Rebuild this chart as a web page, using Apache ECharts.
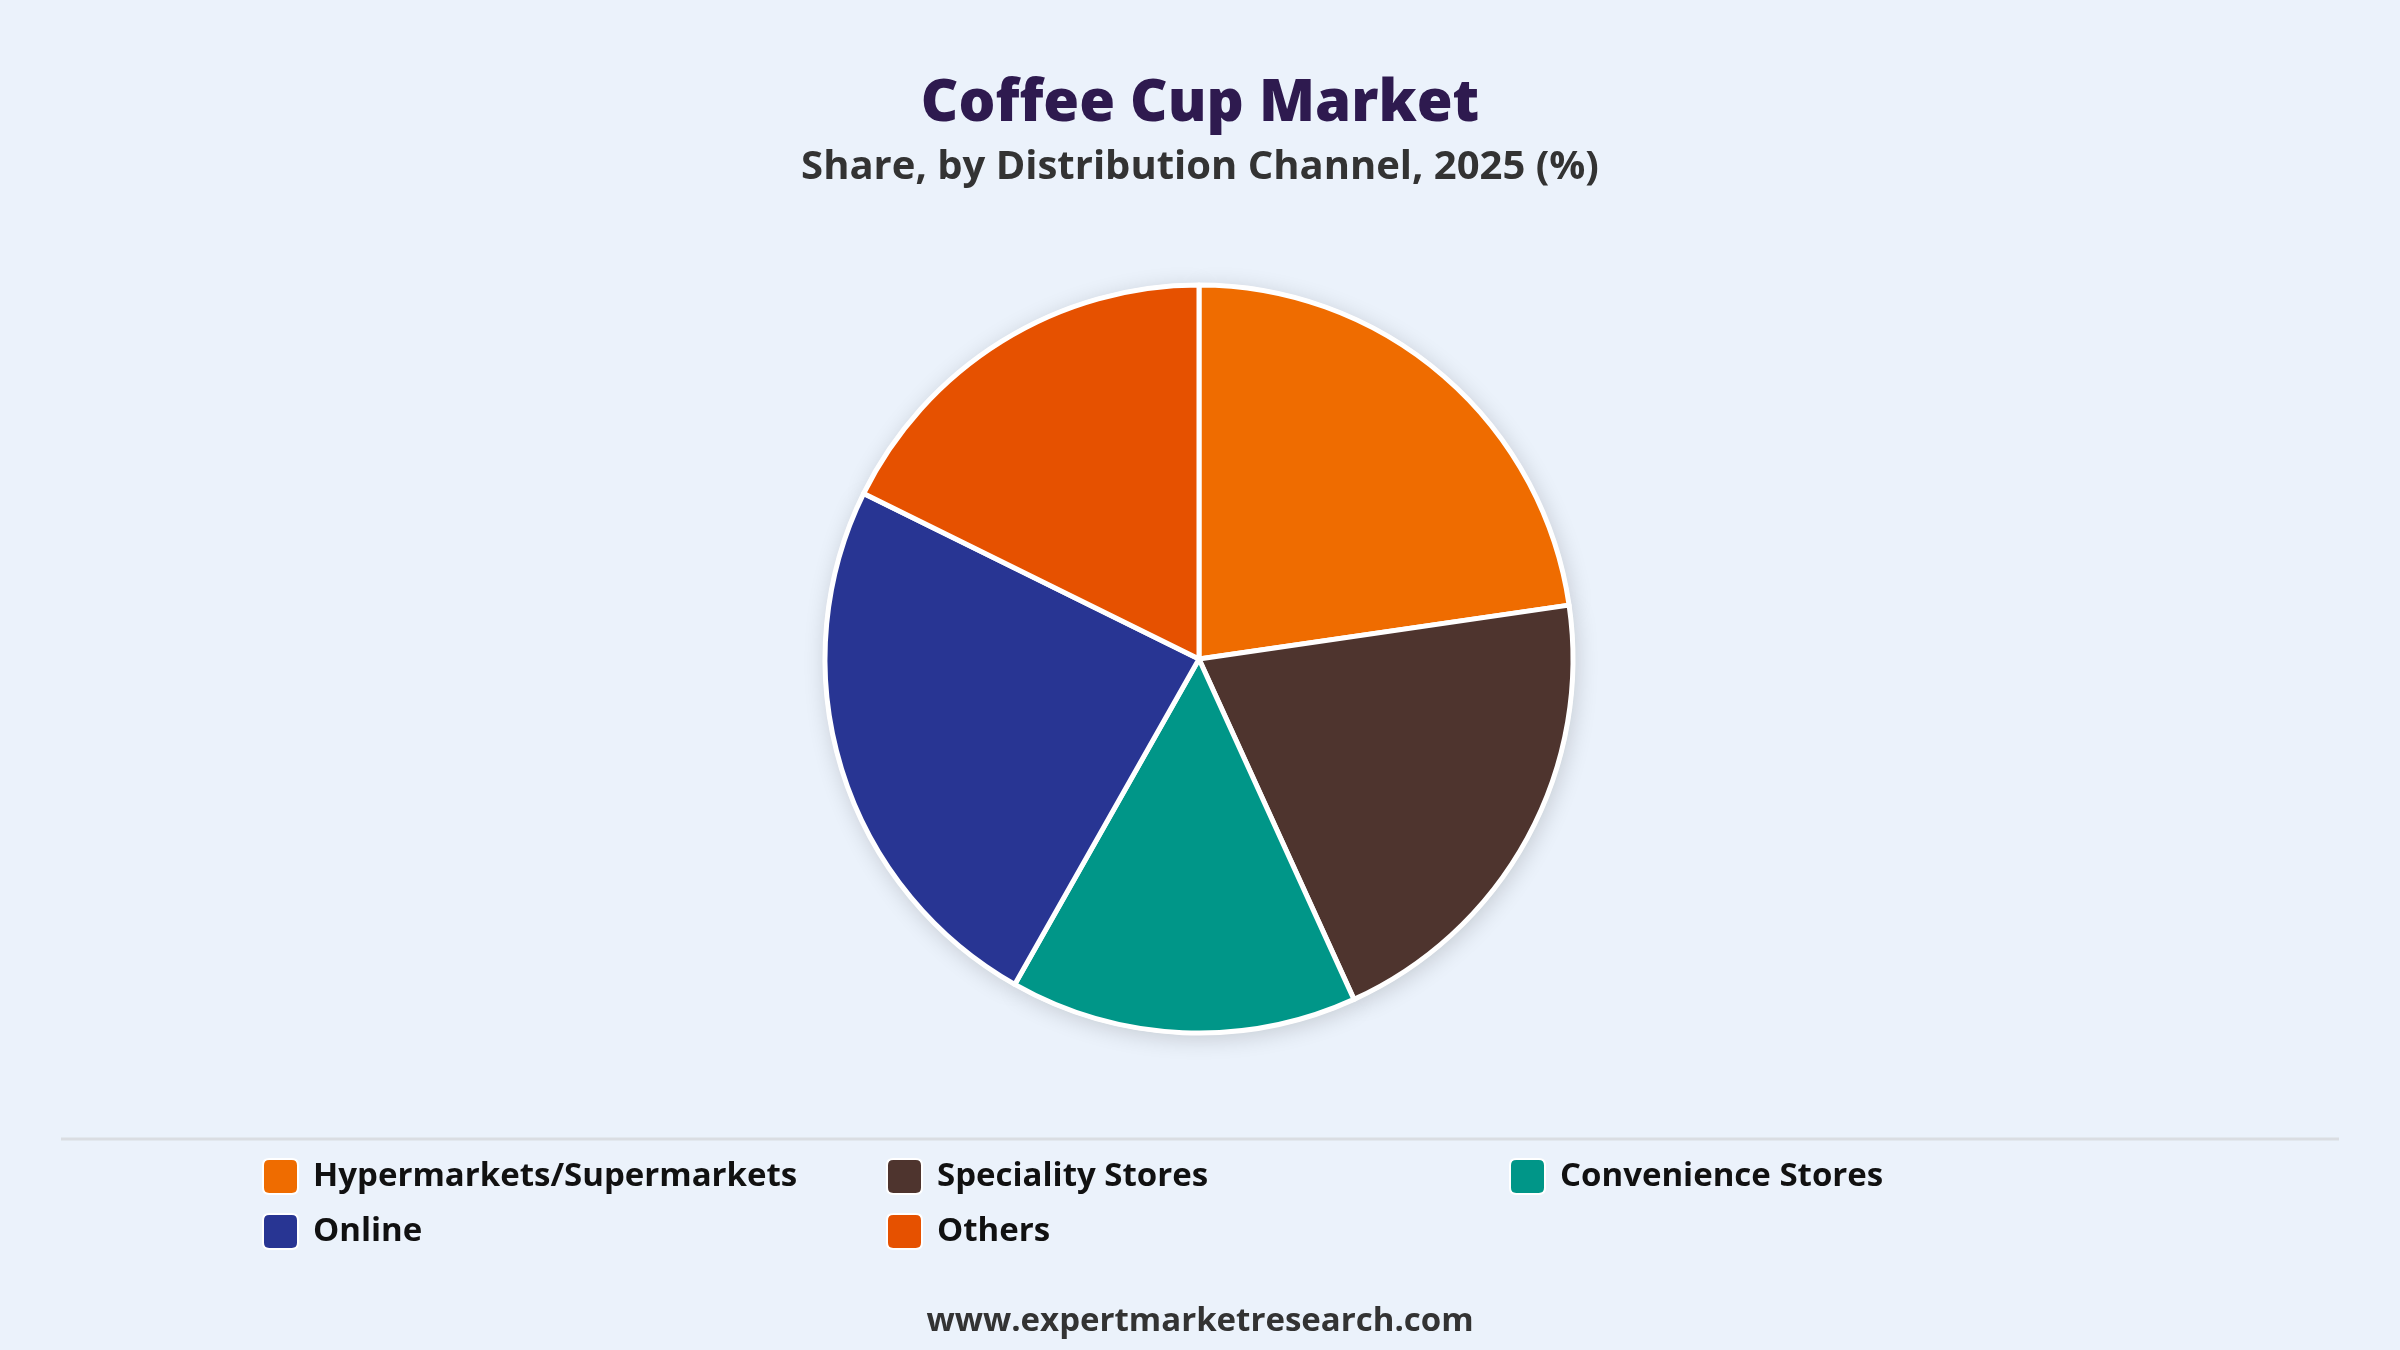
<!DOCTYPE html>
<html>
<head>
<meta charset="utf-8">
<script src="https://cdn.jsdelivr.net/npm/echarts@6/dist/echarts.min.js"></script>
<style>
html,body{margin:0;padding:0;background:#EBF2FB;}
#chart{width:2400px;height:1350px;}
</style>
</head>
<body>
<div id="chart"></div>
<script>
const categories = ["Hypermarkets/Supermarkets", "Speciality Stores", "Convenience Stores", "Online", "Others"];
const shares = [22.7, 20.5, 15.0, 24.1, 17.7];
const colors = ["#EF6C00", "#4E342E", "#009688", "#283593", "#E65100"];
const titleText = "Coffee Cup Market";
const subtitleText = "Share, by Distribution Channel, 2025 (%)";
const footerText = "www.expertmarketresearch.com";

const FONT = "'Open Sans', 'Noto Sans', sans-serif";
const legendColumns = [
  [categories[0], categories[3]],
  [categories[1], categories[4]],
  [categories[2]]
];
const legendLefts = [262, 886, 1509];

function makeLegend(names, left) {
  return {
    left: left, top: 1158, padding: 0,
    orient: 'vertical',
    itemWidth: 35, itemHeight: 35, itemGap: 18,
    icon: 'path://M6,0 H28 Q34,0 34,6 V28 Q34,34 28,34 H6 Q0,34 0,28 V6 Q0,0 6,0 Z',
    textStyle: { fontFamily: FONT, fontSize: 33, fontWeight: 700, color: '#111111', padding: [0,0,0,10] },
    data: names
  };
}

const chart = echarts.init(document.getElementById('chart'));
chart.setOption({
  backgroundColor: '#EBF2FB',
  animation: false,
  title: [
    { text: titleText, left: 'center', top: 70,
      textStyle: { fontFamily: FONT, fontSize: 58, fontWeight: 800, color: '#2E1A4F' } },
    { text: subtitleText, left: 'center', top: 143,
      textStyle: { fontFamily: FONT, fontSize: 40, fontWeight: 700, color: '#333333' } },
    { text: footerText, left: 'center', top: 1300,
      textStyle: { fontFamily: FONT, fontSize: 33, fontWeight: 700, color: '#333333' } }
  ],
  legend: legendColumns.map((names, i) => makeLegend(names, legendLefts[i])),
  graphic: [
    { type: 'line', shape: { x1: 61, y1: 1139, x2: 2339, y2: 1139 },
      style: { stroke: '#DADDE2', lineWidth: 3 } }
  ],
  series: [{
    type: 'pie',
    z: 3,
    center: [1199, 659],
    radius: [0, 374],
    startAngle: 90,
    clockwise: true,
    label: { show: false },
    labelLine: { show: false },
    emphasis: { disabled: true },
    itemStyle: { borderColor: '#FFFFFF', borderWidth: 5 },
    data: categories.map((c, i) => ({ name: c, value: shares[i], itemStyle: { color: colors[i] } }))
  }, {
    type: 'pie',
    z: 1,
    silent: true,
    center: [1199, 659],
    radius: [0, 376],
    startAngle: 90,
    clockwise: true,
    label: { show: false },
    labelLine: { show: false },
    emphasis: { disabled: true },
    itemStyle: { color: '#FFFFFF', borderWidth: 0, shadowBlur: 22, shadowOffsetX: 2, shadowOffsetY: 4, shadowColor: 'rgba(0,0,0,0.16)' },
    data: categories.map((c, i) => ({ name: c, value: shares[i] }))
  }]
});
</script>
</body>
</html>
